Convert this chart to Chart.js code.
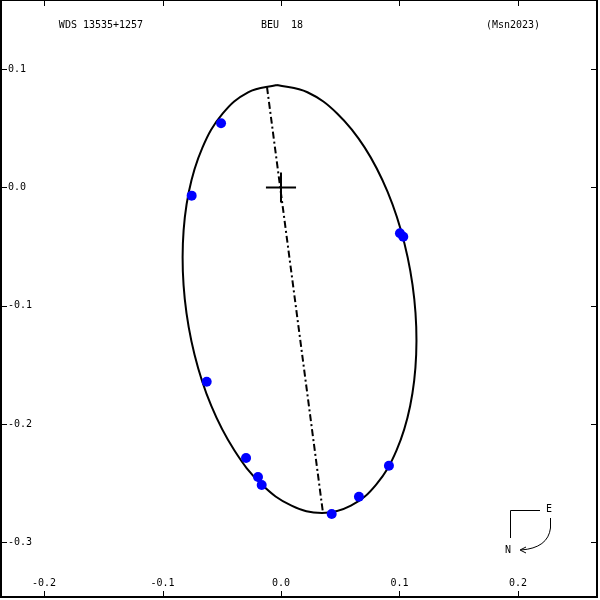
<!DOCTYPE html>
<html>
<head>
<meta charset="utf-8">
<script src="https://cdn.jsdelivr.net/npm/chart.js@4"></script>
<style>
  html, body { margin: 0; padding: 0; background: #fff; }
  #wrap { width: 600px; height: 600px; }
</style>
</head>
<body>
<div id="wrap"><canvas id="orbit" width="600" height="600"></canvas></div>
<script>
// header texts
const titleLeft = "WDS 13535+1257";
const titleMid = "BEU  18";
const titleRight = "(Msn2023)";

// axis ranges and ticks (arcsec)
const xRange = [-0.2363, 0.2667];
const yRange = [-0.3462, 0.1585];
const xTicks = [-0.2, -0.1, 0.0, 0.1, 0.2];
const yTicks = [0.1, 0.0, -0.1, -0.2, -0.3];

// orbit, clockwise from the top
const orbitX = [-0.0034, 0.0223, 0.0476, 0.0707, 0.0900, 0.1042, 0.1125, 0.1141, 0.1090, 0.0975,
  0.0805, 0.0590, 0.0346, 0.0089, -0.0164, -0.0394, -0.0588, -0.0730, -0.0812, -0.0828,
  -0.0778, -0.0663, -0.0493, -0.0278, -0.0034];
const orbitY = [0.0867, 0.0805, 0.0624, 0.0337, -0.0038, -0.0474, -0.0943, -0.1411, -0.1847, -0.2222,
  -0.2509, -0.2690, -0.2752, -0.2690, -0.2509, -0.2222, -0.1847, -0.1411, -0.0943, -0.0474,
  -0.0038, 0.0337, 0.0624, 0.0805, 0.0867];

// measured positions
const obsX = [-0.0506, -0.0754, 0.1004, 0.1032, -0.0627, -0.0295, -0.0194, -0.0163, 0.0428, 0.0658, 0.0911];
const obsY = [0.0543, -0.0069, -0.0387, -0.0416, -0.1642, -0.2287, -0.2447, -0.2515, -0.2760, -0.2614, -0.2352];

// line of nodes end points
const nodeX = [-0.0118, 0.0354];
const nodeY = [0.0849, -0.2748];

// primary cross half size
const crossSize = 0.0127;

const zip = (xs, ys) => xs.map((x, i) => ({ x: x, y: ys[i] }));
const monoFont = '10px "DejaVu Sans Mono", monospace';

const framePlugin = {
  id: "frame",
  afterDatasetsDraw(chart) {
    const ctx = chart.ctx;
    const area = chart.chartArea;
    const sx = chart.scales.x;
    const sy = chart.scales.y;
    const tickLen = 6;

    ctx.save();
    ctx.strokeStyle = "#000";
    ctx.fillStyle = "#000";

    // primary star cross
    ctx.lineWidth = 2;
    ctx.beginPath();
    ctx.moveTo(sx.getPixelForValue(-crossSize), sy.getPixelForValue(0));
    ctx.lineTo(sx.getPixelForValue(crossSize), sy.getPixelForValue(0));
    ctx.moveTo(sx.getPixelForValue(0), sy.getPixelForValue(-crossSize));
    ctx.lineTo(sx.getPixelForValue(0), sy.getPixelForValue(crossSize));
    ctx.stroke();

    // frame
    ctx.lineWidth = 2;
    ctx.strokeRect(area.left, area.top, area.right - area.left, area.bottom - area.top);

    // ticks on all four sides
    ctx.lineWidth = 1;
    ctx.beginPath();
    xTicks.forEach((v) => {
      const px = Math.round(sx.getPixelForValue(v)) + 0.5;
      ctx.moveTo(px, area.top);
      ctx.lineTo(px, area.top + tickLen);
      ctx.moveTo(px, area.bottom);
      ctx.lineTo(px, area.bottom - tickLen);
    });
    yTicks.forEach((v) => {
      const py = Math.round(sy.getPixelForValue(v)) + 0.5;
      ctx.moveTo(area.left, py);
      ctx.lineTo(area.left + tickLen, py);
      ctx.moveTo(area.right, py);
      ctx.lineTo(area.right - tickLen, py);
    });
    ctx.stroke();

    // tick labels
    ctx.font = monoFont;
    ctx.textBaseline = "middle";
    ctx.textAlign = "center";
    xTicks.forEach((v) => {
      ctx.fillText(v.toFixed(1), sx.getPixelForValue(v), area.bottom - 14);
    });
    ctx.textAlign = "left";
    yTicks.forEach((v) => {
      ctx.fillText(v.toFixed(1), area.left + 7, sy.getPixelForValue(v));
    });

    // header line
    ctx.textAlign = "center";
    ctx.fillText(titleLeft, 101, 25);
    ctx.fillText(titleMid, 282, 25);
    ctx.fillText(titleRight, 513, 25);

    // compass
    const cx = area.right - 87;
    const cy = area.bottom - 87;
    ctx.lineWidth = 1;
    ctx.beginPath();
    ctx.moveTo(cx + 30, cy + 0.5);
    ctx.lineTo(cx + 0.5, cy + 0.5);
    ctx.lineTo(cx + 0.5, cy + 28);
    ctx.stroke();
    ctx.fillText("E", cx + 39, cy - 1);
    ctx.fillText("N", cx - 2, cy + 40);
    ctx.beginPath();
    ctx.moveTo(cx + 40.5, cy + 8);
    ctx.lineTo(cx + 40.5, cy + 18);
    ctx.quadraticCurveTo(cx + 38, cy + 38, cx + 11, cy + 40);
    ctx.stroke();
    ctx.beginPath();
    ctx.moveTo(cx + 10, cy + 40);
    ctx.lineTo(cx + 16, cy + 37);
    ctx.moveTo(cx + 10, cy + 40);
    ctx.lineTo(cx + 16, cy + 43);
    ctx.stroke();

    ctx.restore();
  },
};

new Chart(document.getElementById("orbit"), {
  type: "scatter",
  data: {
    datasets: [
      {
        label: "orbit",
        data: zip(orbitX, orbitY),
        showLine: true,
        borderColor: "#000",
        borderWidth: 2,
        pointRadius: 0,
        tension: 0.4,
        order: 3,
      },
      {
        label: "nodes",
        data: zip(nodeX, nodeY),
        showLine: true,
        borderColor: "#000",
        borderWidth: 2,
        borderDash: [7, 3, 2, 3],
        pointRadius: 0,
        order: 2,
      },
      {
        label: "measures",
        data: zip(obsX, obsY),
        backgroundColor: "#0000ff",
        borderColor: "#0000ff",
        borderWidth: 0,
        pointRadius: 5,
        order: 1,
      },
    ],
  },
  options: {
    responsive: false,
    animation: false,
    layout: { autoPadding: false, padding: { left: 1, right: 3, top: 0, bottom: 3 } },
    scales: {
      x: { type: "linear", display: false, min: xRange[0], max: xRange[1] },
      y: { type: "linear", display: false, min: yRange[0], max: yRange[1] },
    },
    plugins: {
      legend: { display: false },
      tooltip: { enabled: false },
    },
  },
  plugins: [framePlugin],
});
</script>
</body>
</html>
